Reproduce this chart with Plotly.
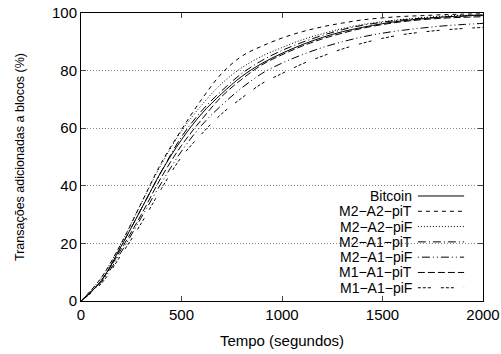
import plotly.graph_objects as go

time_s = [0, 100, 200, 300, 400, 500, 600, 700, 800, 900, 1000,
          1100, 1200, 1300, 1400, 1500, 1600, 1700, 1800, 1900, 2000]

bitcoin    = [0, 7, 19, 32, 45, 56, 65, 72, 78, 82.5, 86, 89, 91.5, 93.5, 95, 96.3, 97.3, 98, 98.6, 99, 99.3]
m2_a2_piT  = [0, 8, 20, 34, 48, 59.5, 70, 79, 85, 88.5, 91.3, 93.5, 95.2, 96.5, 97.6, 98.3, 98.8, 99.1, 99.4, 99.6, 99.7]
m2_a2_piF  = [0, 8, 20, 34, 47.5, 59, 68, 75.5, 81, 85, 88, 90.7, 92.8, 94.6, 96, 97, 97.8, 98.4, 98.9, 99.2, 99.4]
m2_a1_piT  = [0, 7, 19, 32, 45, 57, 66, 73, 79, 83.5, 87, 89.8, 92.2, 94.2, 95.7, 96.8, 97.6, 98.2, 98.6, 98.9, 99.1]
m2_a1_piF  = [0, 6.5, 17, 29, 41, 52, 61, 68, 74, 79, 82.6, 85.5, 88, 90, 91.7, 93, 94, 94.8, 95.5, 96, 96.4]
m1_a1_piT  = [0, 7, 18, 30, 43, 54, 63, 71, 77, 82, 85.5, 88.5, 91, 93, 94.7, 96, 97, 97.7, 98.2, 98.5, 98.7]
m1_a1_piF  = [0, 6, 16, 27, 39, 50, 58, 65, 70.5, 75.5, 79, 82.3, 85, 87.5, 89.5, 91.2, 92.5, 93.4, 94.1, 94.6, 95]

series_names = ["Bitcoin", "M2\u2212A2\u2212piT", "M2\u2212A2\u2212piF", "M2\u2212A1\u2212piT",
                "M2\u2212A1\u2212piF", "M1\u2212A1\u2212piT", "M1\u2212A1\u2212piF"]
series_values = [bitcoin, m2_a2_piT, m2_a2_piF, m2_a1_piT, m2_a1_piF, m1_a1_piT, m1_a1_piF]
dashes = ["solid", "4px,4px", "1px,2px", "8px,3px,1px,3px",
          "1px,3px,8px,3px,1px,3px", "7px,3px", "3px,2px,3px,2px,3px,10px"]

x_ticks = [0, 500, 1000, 1500, 2000]
y_ticks = [0, 20, 40, 60, 80, 100]

FONT = "Liberation Sans, Arial, Helvetica, sans-serif"

fig = go.Figure()
for name, vals, d in zip(series_names, series_values, dashes):
    fig.add_trace(go.Scatter(x=time_s, y=vals, mode="lines", name=name,
                             line=dict(color="black", width=1, dash=d, shape="spline"),
                             showlegend=False))

# manual gnuplot-style legend (text right, sample on the right)
fig.add_shape(type="rect", xref="paper", yref="paper", x0=0.624, x1=0.975, y0=0.005, y1=0.389,
              fillcolor="white", line=dict(width=0), layer="below")
row_top = 0.3646
row_step = 0.0531
for i, (name, d) in enumerate(zip(series_names, dashes)):
    yy = row_top - i * row_step
    fig.add_annotation(xref="paper", yref="paper", x=0.828, y=yy, text=name,
                       showarrow=False, xanchor="right", yanchor="middle",
                       font=dict(family=FONT, size=14, color="black"))
    fig.add_shape(type="line", xref="paper", yref="paper", x0=0.838, x1=0.953, y0=yy, y1=yy,
                  line=dict(color="black", width=1, dash=d))

fig.update_layout(
    width=501, height=354,
    margin=dict(l=81, r=18, t=13, b=53),
    paper_bgcolor="white", plot_bgcolor="white",
    font=dict(family=FONT, size=15, color="black"),
)
fig.update_xaxes(range=[0, 2000], tickvals=x_ticks, ticks="inside", ticklen=5,
                 showline=True, linecolor="black", linewidth=1, mirror="ticks",
                 showgrid=False, zeroline=False, automargin=False,
                 title=dict(text="Tempo (segundos)", font=dict(size=15), standoff=13))
fig.update_yaxes(range=[0, 100], tickvals=y_ticks, ticks="inside", ticklen=5,
                 showline=True, linecolor="black", linewidth=1, mirror="ticks",
                 showgrid=True, gridcolor="#888888", griddash="1px,2px", gridwidth=1,
                 zeroline=False, automargin=False,
                 title=dict(text="Transações adicionadas a blocos (%)", font=dict(size=12.5), standoff=24))

fig.write_html("out.html", config={"displayModeBar": False},
               post_script="document.body.style.margin='0';document.documentElement.style.overflow='hidden';")
